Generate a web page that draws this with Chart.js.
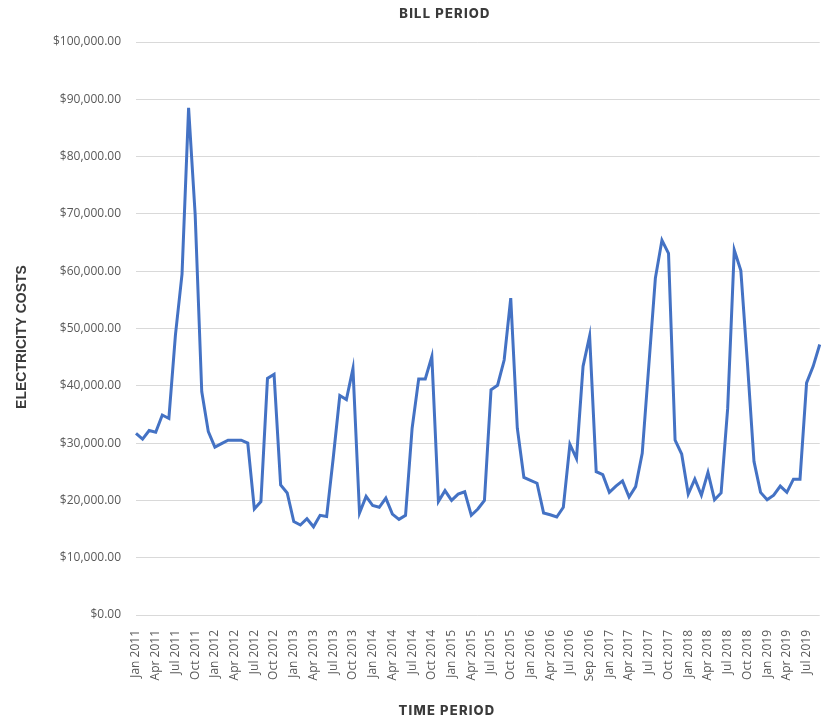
<!DOCTYPE html>
<html>
<head>
<meta charset="utf-8">
<title>Bill Period</title>
<script src="https://cdn.jsdelivr.net/npm/chart.js@4.4.1/dist/chart.umd.min.js"></script>
<style>
    html, body { margin: 0; padding: 0; background: #fff; }
    canvas { display: block; }
</style>
</head>
<body>
<canvas id="chart" width="828" height="722"></canvas>
<script>
const chartTitle = 'BILL PERIOD';
const xTitle = 'TIME PERIOD';
const yTitle = 'ELECTRICITY COSTS';

// billing periods (2016 has two August bills and no October one)
const periods = [
    'Jan 2011', 'Feb 2011', 'Mar 2011', 'Apr 2011', 'May 2011', 'Jun 2011', 'Jul 2011', 'Aug 2011', 'Sep 2011', 'Oct 2011', 'Nov 2011', 'Dec 2011',
    'Jan 2012', 'Feb 2012', 'Mar 2012', 'Apr 2012', 'May 2012', 'Jun 2012', 'Jul 2012', 'Aug 2012', 'Sep 2012', 'Oct 2012', 'Nov 2012', 'Dec 2012',
    'Jan 2013', 'Feb 2013', 'Mar 2013', 'Apr 2013', 'May 2013', 'Jun 2013', 'Jul 2013', 'Aug 2013', 'Sep 2013', 'Oct 2013', 'Nov 2013', 'Dec 2013',
    'Jan 2014', 'Feb 2014', 'Mar 2014', 'Apr 2014', 'May 2014', 'Jun 2014', 'Jul 2014', 'Aug 2014', 'Sep 2014', 'Oct 2014', 'Nov 2014', 'Dec 2014',
    'Jan 2015', 'Feb 2015', 'Mar 2015', 'Apr 2015', 'May 2015', 'Jun 2015', 'Jul 2015', 'Aug 2015', 'Sep 2015', 'Oct 2015', 'Nov 2015', 'Dec 2015',
    'Jan 2016', 'Feb 2016', 'Mar 2016', 'Apr 2016', 'May 2016', 'Jun 2016', 'Jul 2016', 'Aug 2016', 'Aug 2016', 'Sep 2016', 'Nov 2016', 'Dec 2016',
    'Jan 2017', 'Feb 2017', 'Mar 2017', 'Apr 2017', 'May 2017', 'Jun 2017', 'Jul 2017', 'Aug 2017', 'Sep 2017', 'Oct 2017', 'Nov 2017', 'Dec 2017',
    'Jan 2018', 'Feb 2018', 'Mar 2018', 'Apr 2018', 'May 2018', 'Jun 2018', 'Jul 2018', 'Aug 2018', 'Sep 2018', 'Oct 2018', 'Nov 2018', 'Dec 2018',
    'Jan 2019', 'Feb 2019', 'Mar 2019', 'Apr 2019', 'May 2019', 'Jun 2019', 'Jul 2019', 'Aug 2019', 'Sep 2019'
];

const costs = [
    31700, 30700, 32200, 31900, 34900, 34300, 48900, 59500, 88500, 69900, 39000, 32000,
    29300, 29900, 30500, 30500, 30500, 30000, 18500, 19800, 41300, 42000, 22700, 21300,
    16300, 15700, 16800, 15400, 17400, 17200, 27400, 38300, 37600, 43000, 17800, 20700,
    19100, 18800, 20400, 17600, 16700, 17400, 32600, 41200, 41200, 45100, 19800, 21700,
    20000, 21100, 21500, 17400, 18500, 20000, 39300, 40100, 44500, 55300, 32600, 24000,
    23500, 23000, 17800, 17500, 17100, 18800, 29800, 27300, 43400, 48700, 25000, 24500,
    21400, 22500, 23400, 20600, 22400, 28200, 43500, 58800, 65400, 63100, 30500, 28100,
    21100, 23700, 20900, 24900, 20100, 21300, 36100, 63700, 60100, 44000, 26800, 21400,
    20100, 20900, 22500, 21400, 23700, 23700, 40500, 43400, 47200
];

const yMin = 0,
    yMax = 100000,
    yStep = 10000;

const titlesPlugin = {
    id: 'titles',
    afterDraw(chart) {
        const ctx = chart.ctx;
        ctx.save();
        ctx.fillStyle = '#3a3a3a';
        ctx.textAlign = 'center';
        ctx.textBaseline = 'middle';
        ctx.font = '800 13px Inter, Lato, sans-serif';
        ctx.letterSpacing = '1.2px';
        ctx.fillText(chartTitle, 445, 14);
        ctx.fillText(xTitle, 447, 711);
        ctx.letterSpacing = '0px';
        ctx.translate(22, 337);
        ctx.rotate(-Math.PI / 2);
        ctx.font = 'bold 14px "Liberation Sans", Arial, sans-serif';
        ctx.fillText(yTitle, 0, 0);
        ctx.restore();
    }
};

new Chart(document.getElementById('chart'), {
    type: 'line',
    data: {
        labels: periods,
        datasets: [{
            label: 'Electricity costs',
            data: costs,
            borderColor: '#4472C4',
            backgroundColor: '#4472C4',
            borderWidth: 3,
            pointRadius: 0,
            tension: 0,
            fill: false
        }]
    },
    options: {
        responsive: false,
        animation: false,
        layout: {
            padding: { top: 42, right: 1, bottom: 0, left: 0 }
        },
        scales: {
            x: {
                grid: { display: false },
                border: { display: false },
                ticks: {
                    autoSkip: false,
                    minRotation: 90,
                    maxRotation: 90,
                    padding: 7,
                    color: '#595959',
                    font: { family: '"Open Sans", sans-serif', size: 12 },
                    callback: function (value, i) {
                        return i % 3 === 0 ? this.getLabelForValue(value) : null;
                    }
                },
                afterFit: (scale) => { scale.height = 107; }
            },
            y: {
                min: yMin,
                max: yMax,
                grid: { color: '#d9d9d9', drawTicks: false },
                border: { display: false },
                ticks: {
                    stepSize: yStep,
                    padding: 15,
                    color: '#595959',
                    font: { family: '"Open Sans", sans-serif', size: 12 },
                    callback: (v) => '$' + v.toLocaleString('en-US', { minimumFractionDigits: 2, maximumFractionDigits: 2 })
                },
                afterFit: (scale) => { scale.width = 136; }
            }
        },
        plugins: {
            legend: { display: false },
            tooltip: { enabled: false }
        }
    },
    plugins: [titlesPlugin]
});
</script>
</body>
</html>
